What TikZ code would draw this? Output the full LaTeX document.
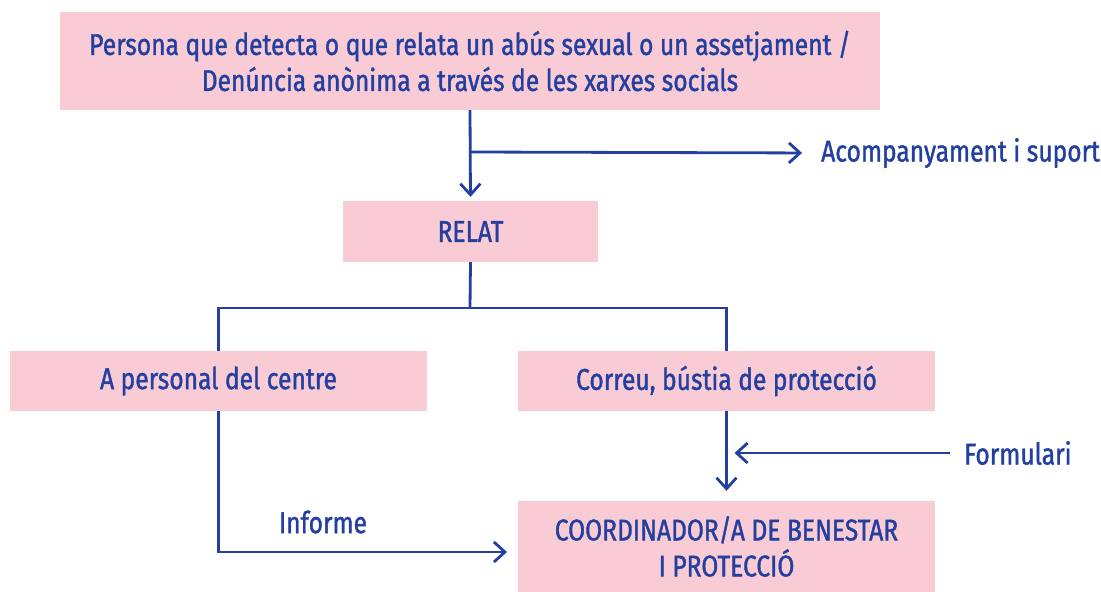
\documentclass[tikz,border=0pt]{standalone}
\usepackage{fontspec}
\setmainfont{Fira Sans}[FakeStretch=0.82,FakeBold=1.3]
\usetikzlibrary{arrows.meta}
\definecolor{boxpink}{HTML}{F9CBD5}
\definecolor{navy}{HTML}{2340A0}
\tikzset{
  box/.style={rectangle, fill=boxpink, draw=none, align=center, text=navy, font=\fontsize{30}{36}\selectfont, inner sep=0pt},
  lbl/.style={text=navy, font=\fontsize{30}{36}\selectfont, inner sep=0pt},
  conn/.style={draw=navy, line width=2.8pt},
  arr/.style={conn, -{Straight Barb[length=11pt,width=20pt,line width=2.8pt]}}
}
\begin{document}
\begin{tikzpicture}[x=1pt,y=-1pt]
\useasboundingbox (0,0) rectangle (1101,592);
\node[box, minimum width=820pt, minimum height=98pt] (top) at (470,61) {Persona que detecta o que relata un abús sexual o un assetjament /\\Denúncia anònima a través de les xarxes socials};
\node[box, minimum width=255pt, minimum height=61pt] (relat) at (470.5,231.5) {RELAT};
\node[box, minimum width=417pt, minimum height=60pt] (apers) at (218.5,381) {A personal del centre};
\node[box, minimum width=417pt, minimum height=60pt] (correu) at (726.5,381) {Correu, bústia de protecció};
\node[box, minimum width=417pt, minimum height=91pt] (coord) at (726.5,546.5) {COORDINADOR/A DE BENESTAR\\I PROTECCIÓ};
\node[lbl, anchor=west] (acomp) at (821,153) {Acompanyament i suport};
\node[lbl, anchor=west] (form) at (964,453) {Formulari};
\node[lbl] (inf) at (323,522) {Informe};
\coordinate (b1) at (470,152);
\coordinate (j) at (470,308);
\coordinate (ie) at (518,552);
\draw[arr, shorten >=4pt] (top.south) -- (relat.north);
\draw[arr, shorten >=19pt] (b1) -- (acomp.west);
\draw[conn] (relat.south) -- (j);
\draw[conn] (apers.north) |- (j) -| (correu.north);
\draw[arr, shorten >=10pt] (correu.south) -- (coord.north);
\draw[arr, shorten <=14pt, shorten >=8pt] (form.west) -- (correu.south |- form.west);
\draw[arr, shorten >=11pt] (apers.south) |- (ie);
\end{tikzpicture}
\end{document}
